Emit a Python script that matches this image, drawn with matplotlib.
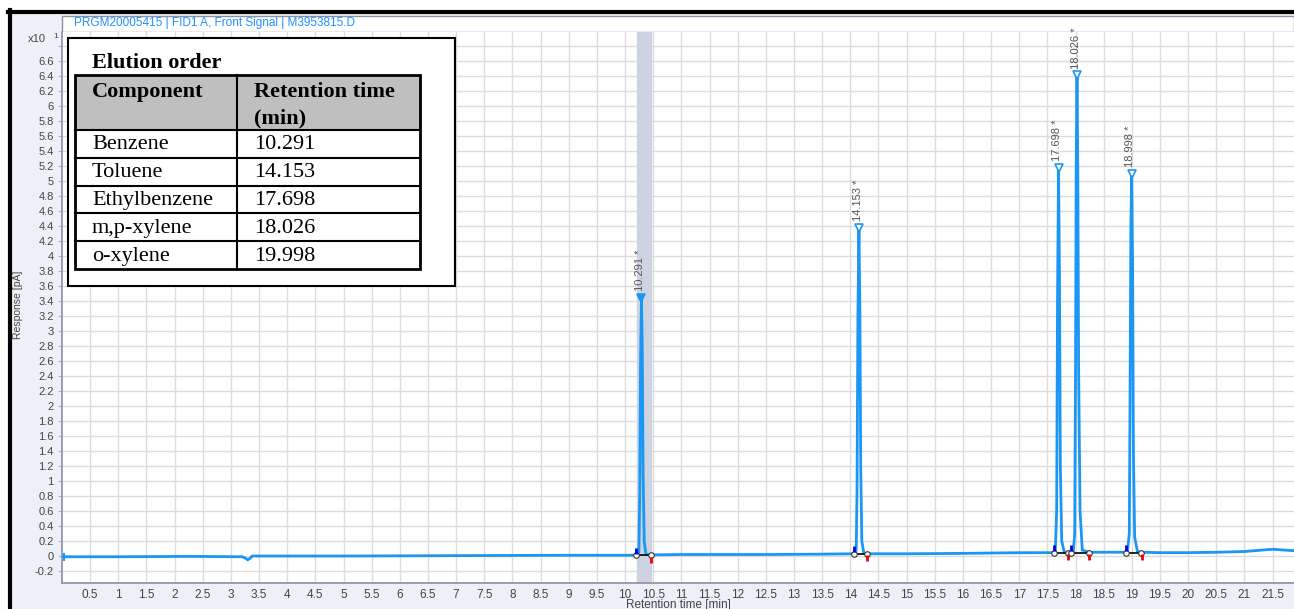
import matplotlib.pyplot as plt
from matplotlib.patches import Rectangle
import numpy as np

# chromatogram trace (time in min, response in pA x10)
base_t = [0.0, 1.0, 2.3, 3.2, 3.26, 3.3, 3.34, 3.38, 5.0, 7.0, 9.0, 10.18]
base_y = [-0.01, -0.01, -0.005, -0.01, -0.03, -0.05, -0.03, 0.0, 0.0, 0.005, 0.01, 0.01]
benz_t = [10.22, 10.245, 10.26, 10.275, 10.291, 10.305, 10.32, 10.34, 10.37, 10.45]
benz_y = [0.01, 0.05, 0.8, 2.6, 3.44, 2.8, 1.1, 0.2, 0.02, 0.015]
mid_t = [11.0, 12.5, 13.5, 14.05]
mid_y = [0.02, 0.02, 0.025, 0.03]
tol_t = [14.08, 14.105, 14.12, 14.135, 14.153, 14.17, 14.185, 14.205, 14.24, 14.30]
tol_y = [0.03, 0.08, 0.9, 3.2, 4.38, 3.3, 1.2, 0.2, 0.04, 0.03]
mid2_t = [15.0, 16.0, 16.5, 17.0, 17.6]
mid2_y = [0.03, 0.035, 0.04, 0.044, 0.045]
eb_t = [17.64, 17.665, 17.68, 17.698, 17.715, 17.73, 17.755, 17.80, 17.90]
eb_y = [0.05, 0.6, 3.4, 5.17, 3.7, 1.2, 0.2, 0.05, 0.05]
mp_t = [17.96, 17.985, 18.0, 18.012, 18.026, 18.04, 18.055, 18.08, 18.12, 18.24]
mp_y = [0.05, 0.3, 2.4, 5.2, 6.41, 5.2, 2.5, 0.6, 0.08, 0.05]
ox_t = [18.92, 18.955, 18.97, 18.983, 18.998, 19.013, 19.028, 19.05, 19.10, 19.20]
ox_y = [0.05, 0.3, 2.4, 4.4, 5.1, 3.9, 1.4, 0.25, 0.06, 0.05]
tail_t = [19.5, 20.0, 20.5, 21.0, 21.4, 21.5, 21.7, 21.9]
tail_y = [0.045, 0.045, 0.05, 0.06, 0.085, 0.09, 0.08, 0.07]

# detected peaks
peak_rt = [10.291, 14.153, 17.698, 18.026, 18.998]
peak_h = [3.44, 4.38, 5.17, 6.41, 5.10]
int_start = [10.19, 14.06, 17.62, 17.92, 18.90]
int_end = [10.46, 14.29, 17.87, 18.24, 19.17]
int_base = [0.01, 0.03, 0.045, 0.045, 0.045]

# elution table
components = ['Benzene', 'Toluene', 'Ethylbenzene', 'm,p-xylene', 'o-xylene']
rt_table = ['10.291', '14.153', '17.698', '18.026', '19.998']

W, H = 1294, 609
fig = plt.figure(figsize=(W / 100, H / 100), dpi=100)
fig.patch.set_facecolor('white')


def fx(x):
    return x / W


def fy(y):
    return 1 - y / H


# frame background + thick black borders
bg = fig.add_axes([0, 0, 1, 1], zorder=-5)
bg.set_xlim(0, W)
bg.set_ylim(H, 0)
bg.axis('off')
bg.add_patch(Rectangle((8, 10), W - 8, H - 10, facecolor='#eef0f7', edgecolor='none'))
bg.plot([9.5, 9.5], [10, H], color='black', lw=3)
bg.plot([8, W], [11.5, 11.5], color='black', lw=3)
bg.add_patch(Rectangle((62, 15.5), W - 62, 16.5, facecolor='white', edgecolor='#8a8fa8', lw=1))
bg.text(74, 23, 'PRGM20005415 | FID1 A, Front Signal | M3953815.D', color='#1e90ff',
        fontsize=8.5, family='Liberation Sans', va='center', ha='left')

ax = fig.add_axes([fx(62), 1 - 583 / H, (W - 62) / W, (583 - 32) / H])
ax.set_facecolor('white')
ax.set_xlim(0, 21.88)
ax.set_ylim(-0.36, 6.99)

xt = np.arange(0.5, 21.6, 0.5)
ax.set_xticks(xt)
ax.set_xticklabels(['%g' % v for v in xt])
yt = np.arange(-0.2, 6.81, 0.2)
ax.set_yticks(yt)
ax.set_yticklabels(['%g' % round(v, 1) if v < 6.7 else '' for v in yt])
ax.grid(True, color='#dcdcdc', lw=1)
ax.set_axisbelow(True)
ax.tick_params(axis='x', length=0, pad=4, labelsize=8.5, labelcolor='#444444')
ax.tick_params(axis='y', length=3, width=0.8, color='#b0b4c4', pad=3, labelsize=8, labelcolor='#444444')
for lab in ax.get_xticklabels() + ax.get_yticklabels():
    lab.set_family('Liberation Sans')
for s in ['top', 'right']:
    ax.spines[s].set_visible(False)
for s in ['left', 'bottom']:
    ax.spines[s].set_color('#8a8fa8')
    ax.spines[s].set_linewidth(1.2)

ax.set_xlabel('Retention time [min]', fontsize=8.5, color='#444444', family='Liberation Sans', labelpad=-1)
fig.text(fx(18), fy(305), 'Response [pA]', rotation=90, fontsize=7.5, color='#444444',
         family='Liberation Sans', ha='center', va='center')
fig.text(fx(28), fy(39), 'x10', fontsize=8, color='#444444', family='Liberation Sans', va='center')
fig.text(fx(53), fy(36), '1', fontsize=6, color='#444444', family='Liberation Sans', va='center')

# selected peak highlight
ax.axvspan(10.21, 10.46, color='#cdd3e0', zorder=1)

t = base_t + benz_t + mid_t + tol_t + mid2_t + eb_t + mp_t + ox_t + tail_t
y = base_y + benz_y + mid_y + tol_y + mid2_y + eb_y + mp_y + ox_y + tail_y
ax.plot(t, y, color='#1a96f5', lw=2, zorder=3, solid_joinstyle='miter')
ax.plot([0.04], [-0.01], marker='+', color='#1a96f5', ms=6, mew=1.5, zorder=4)

# integration baselines and markers
for s, e, b in zip(int_start, int_end, int_base):
    ax.plot([s, e], [b, b], color='black', lw=1.2, zorder=4)
    ax.plot([s, e], [b, b], 'o', ms=4, mfc='white', mec='#333333', mew=0.8, zorder=5)
    ax.plot([s + 0.005, s + 0.005], [b + 0.02, b + 0.1], color='#0000dd', lw=2, zorder=5, solid_capstyle='butt')
    ax.plot([e + 0.005, e + 0.005], [b - 0.02, b - 0.1], color='#ee0000', lw=2, zorder=5, solid_capstyle='butt')

# apex markers and labels
for i, (rt, h) in enumerate(zip(peak_rt, peak_h)):
    fc = '#1a96f5' if i == 0 else 'white'
    ax.plot([rt], [h], marker='v', ms=6, mfc=fc, mec='#1a96f5', mew=1.2, zorder=6)
    ax.annotate('%.3f *' % rt, (rt, h), xytext=(-1, 5), textcoords='offset points',
                rotation=90, ha='center', va='bottom', fontsize=8, color='#555555',
                family='Liberation Sans', zorder=6)

# elution order table
tb = fig.add_axes([0, 0, 1, 1], zorder=10)
tb.set_xlim(0, W)
tb.set_ylim(H, 0)
tb.axis('off')
tb.add_patch(Rectangle((68, 38), 387, 248, facecolor='white', edgecolor='black', lw=1.5))
serif = 'Liberation Serif'
fs = 16
tb.text(92, 63, 'Elution order', fontsize=fs, fontweight='bold', family=serif, va='center')
x0, x1, x2 = 75, 237, 420
yh0, yh1 = 75, 130
row_h = 27.8
tb.add_patch(Rectangle((x0, yh0), x2 - x0, yh1 - yh0, facecolor='#bfbfbf', edgecolor='none'))
y_end = yh1 + row_h * len(components)
tb.add_patch(Rectangle((x0, yh0), x2 - x0, y_end - yh0, facecolor='none', edgecolor='black', lw=2))
tb.plot([x1, x1], [yh0, y_end], color='black', lw=1.5)
tb.text(92, 92, 'Component', fontsize=fs, fontweight='bold', family=serif, va='center')
tb.text(254, 92, 'Retention time', fontsize=fs, fontweight='bold', family=serif, va='center')
tb.text(254, 118, '(min)', fontsize=fs, fontweight='bold', family=serif, va='center')
for i, (c, r) in enumerate(zip(components, rt_table)):
    top = yh1 + i * row_h
    tb.plot([x0, x2], [top, top], color='black', lw=1.5)
    tb.text(92, top + row_h / 2 + 1, c, fontsize=fs, family=serif, va='center')
    tb.text(254, top + row_h / 2 + 1, r, fontsize=fs, family=serif, va='center')

plt.savefig('out.png', dpi=100)
plt.close()
